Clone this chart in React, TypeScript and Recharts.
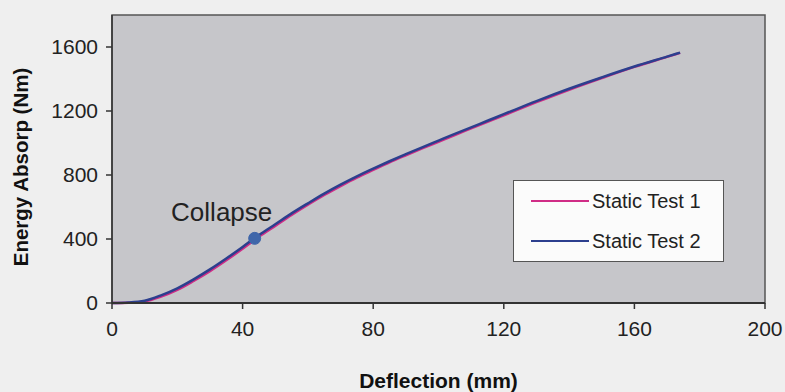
import React from "react";
import {
  LineChart,
  Line,
  XAxis,
  YAxis,
  ReferenceArea,
  ReferenceDot,
  Legend,
  Label,
} from "recharts";

// ---- data ----
const deflection = [0, 5, 10, 15, 20, 25, 30, 35, 40, 45, 50, 55, 60, 65, 70, 75, 80, 85, 90, 95, 100, 105, 110, 115, 120, 130, 140, 150, 160, 170, 174];
const staticTest1 = [0, 2, 10, 40, 82, 138, 199, 267, 339, 414, 482, 550, 614, 675, 731, 784, 832, 879, 923, 966, 1008, 1050, 1091, 1132, 1173, 1255, 1333, 1406, 1476, 1538, 1563];
const staticTest2 = [0, 3, 14, 48, 92, 148, 210, 278, 350, 425, 492, 560, 623, 684, 740, 792, 840, 886, 930, 973, 1015, 1057, 1098, 1139, 1180, 1262, 1339, 1410, 1478, 1540, 1565];
const seriesNames = ["Static Test 1", "Static Test 2"];
const xTicks = [0, 40, 80, 120, 160, 200];
const yTicks = [0, 400, 800, 1200, 1600];
const collapsePoint = { x: 43.7, y: 404, label: "Collapse" };
const xTitle = "Deflection (mm)";
const yTitle = "Energy Absorp (Nm)";

const data = deflection.map((x, i) => ({ x, t1: staticTest1[i], t2: staticTest2[i] }));

const FONT = "'Liberation Sans', Arial, Helvetica, sans-serif";
const C1 = "#d02c86";
const C2 = "#2c3f8e";

const LegendBox = (props: any) => {
  const items = [
    { name: seriesNames[0], color: C1 },
    { name: seriesNames[1], color: C2 },
  ];
  return (
    <div
      style={{
        width: 211,
        height: 82,
        background: "#fbfbfb",
        border: "1px solid #555",
        boxSizing: "border-box",
        fontFamily: FONT,
        fontSize: 20,
        color: "#222",
      }}
    >
      {items.map((it) => (
        <div key={it.name} style={{ display: "flex", alignItems: "center", height: 40 }}>
          <div style={{ width: 58, height: 2.5, background: it.color, marginLeft: 17, marginRight: 3 }} />
          <span>{it.name}</span>
        </div>
      ))}
    </div>
  );
};

export default function App() {
  return (
    <div
      style={{
        position: "fixed",
        left: 0,
        top: 0,
        width: 785,
        height: 392,
        background: "#efefef",
        fontFamily: FONT,
      }}
    >
      <LineChart
        width={785}
        height={392}
        data={data}
        margin={{ top: 15, right: 20, bottom: 0, left: 0 }}
      >
        <ReferenceArea
          x1={0}
          x2={200}
          y1={0}
          y2={1800}
          fill="#c6c6ca"
          fillOpacity={1}
          stroke="#555"
          strokeWidth={1.5}
          ifOverflow="extendDomain"
        />
        <XAxis
          type="number"
          dataKey="x"
          domain={[0, 200]}
          ticks={xTicks}
          height={89}
          tickSize={6}
          tickMargin={12}
          tick={{ fontSize: 21, fill: "#222", fontFamily: FONT }}
          tickLine={{ stroke: "#333", strokeWidth: 1.5 }}
          axisLine={{ stroke: "#333", strokeWidth: 2 }}
        >
          <Label
            value={xTitle}
            position="insideBottom"
            offset={4}
            style={{ fontSize: 21, fontWeight: "bold", fill: "#111", fontFamily: FONT }}
          />
        </XAxis>
        <YAxis
          type="number"
          domain={[0, 1800]}
          ticks={yTicks}
          width={112}
          tickSize={6}
          tickMargin={8}
          tick={{ fontSize: 21, fill: "#222", fontFamily: FONT }}
          tickLine={{ stroke: "#333", strokeWidth: 1.5 }}
          axisLine={{ stroke: "#333", strokeWidth: 1.5 }}
        >
          <Label
            content={(p: any) => {
              const vb = p.viewBox || { x: 0, y: 0, width: 0, height: 0 };
              const cx = vb.x + 20;
              const cy = vb.y + vb.height / 2 + 8;
              return (
                <text
                  x={cx}
                  y={cy}
                  transform={`rotate(-90, ${cx}, ${cy})`}
                  textAnchor="middle"
                  dominantBaseline="central"
                  style={{ fontSize: 20.5, fontWeight: "bold", fill: "#111", fontFamily: FONT }}
                >
                  {yTitle}
                </text>
              );
            }}
          />
        </YAxis>
        <Legend
          layout="vertical"
          align="center"
          verticalAlign="middle"
          wrapperStyle={{ left: 513, top: 180, width: 211, height: 82 }}
          content={LegendBox}
        />
        <Line
          type="monotone"
          dataKey="t1"
          name={seriesNames[0]}
          stroke={C1}
          strokeWidth={2.5}
          dot={false}
          isAnimationActive={false}
        />
        <Line
          type="monotone"
          dataKey="t2"
          name={seriesNames[1]}
          stroke={C2}
          strokeWidth={2.5}
          dot={false}
          isAnimationActive={false}
        />
        <ReferenceDot
          x={collapsePoint.x}
          y={collapsePoint.y}
          r={6}
          fill="#3f66aa"
          stroke="#3f66aa"
        >
          <Label
            value={collapsePoint.label}
            position="top"
            offset={11}
            dx={-33}
            style={{ fontSize: 26, fill: "#222", fontFamily: FONT }}
          />
        </ReferenceDot>
      </LineChart>
    </div>
  );
}
